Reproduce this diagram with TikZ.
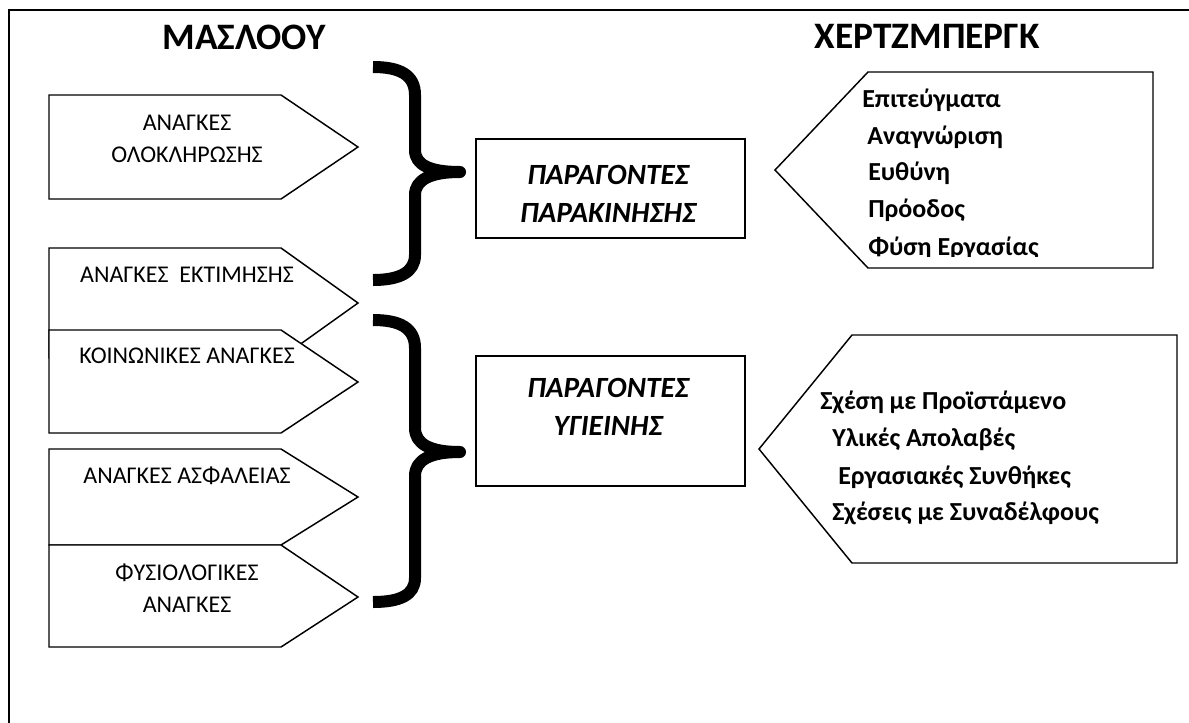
\documentclass[tikz,border=0pt]{standalone}
\usepackage{fontspec}
\setmainfont{Carlito}
\begin{document}
\begin{tikzpicture}[x=0.75pt,y=-0.75pt,
		needbox/.style={draw=black, line width=1.1pt, fill=white, line join=miter},
		needtext/.style={font=\fontsize{18}{24}\selectfont, align=center, inner sep=0pt},
		factortext/.style={font=\fontsize{22}{28}\selectfont\bfseries\itshape, align=center, inner sep=0pt},
		itemtext/.style={font=\fontsize{19.5}{21}\selectfont\bfseries, anchor=west, inner sep=0pt},
		heading/.style={font=\fontsize{28}{30}\selectfont\bfseries, inner sep=0pt},
		curly/.style={line width=9pt, line join=round}]
			\useasboundingbox (0,0) rectangle (1189,722);
			% outer frame
			\draw[line width=1.1pt] (9,740) -- (9,10) -- (1200,10);

			\node[heading] (maslow) at (244,37) {ΜΑΣΛΟΟΥ};
			\node[heading] (herz) at (927,36) {ΧΕΡΤΖΜΠΕΡΓΚ};

			% maslow needs
			\draw[needbox] (49,95) -- (281,95) -- (358,147) -- (281,199) -- (49,199) -- cycle;
			\draw[needbox] (49,248) -- (281,248) -- (358,303) -- (281,358) -- (49,358) -- cycle;
			\draw[needbox] (49,330) -- (281,330) -- (358,382) -- (281,433) -- (49,433) -- cycle;
			\draw[needbox] (49,449) -- (281,449) -- (358,497) -- (281,545) -- (49,545) -- cycle;
			\draw[needbox] (49,545) -- (281,545) -- (358,597) -- (281,647) -- (49,647) -- cycle;

			\node[needtext] (selfact) at (187,139) {ΑΝΑΓΚΕΣ\\ΟΛΟΚΛΗΡΩΣΗΣ};
			\node[needtext] (esteem) at (187,275) {ΑΝΑΓΚΕΣ~~ΕΚΤΙΜΗΣΗΣ};
			\node[needtext] (social) at (187,356) {ΚΟΙΝΩΝΙΚΕΣ ΑΝΑΓΚΕΣ};
			\node[needtext] (safety) at (187,476) {ΑΝΑΓΚΕΣ ΑΣΦΑΛΕΙΑΣ};
			\node[needtext] (physio) at (187,588) {ΦΥΣΙΟΛΟΓΙΚΕΣ\\ΑΝΑΓΚΕΣ};

			% braces
			\draw[curly] (373,67) .. controls (400,67) and (415,75) .. (415,95) -- (415,150)
				.. controls (415,165) and (430,172) .. (460,172)
				.. controls (430,172) and (415,180) .. (415,195) -- (415,255)
				.. controls (415,272) and (400,280) .. (373,280);
			\draw[curly] (373,320) .. controls (400,320) and (415,328) .. (415,348) -- (415,428)
				.. controls (415,444) and (430,452) .. (460,452)
				.. controls (430,452) and (415,460) .. (415,476) -- (415,578)
				.. controls (415,595) and (400,602) .. (373,602);

			% factor boxes
			\draw[needbox] (476,139) rectangle (745,238);
			\draw[needbox] (476,356) rectangle (745,486);
			\node[factortext] (motiv) at (608,194) {ΠΑΡΑΓΟΝΤΕΣ\\ΠΑΡΑΚΙΝΗΣΗΣ};
			\node[factortext] (hyg) at (608,407) {ΠΑΡΑΓΟΝΤΕΣ\\ΥΓΙΕΙΝΗΣ};

			% herzberg lists
			\draw[needbox] (1153,72) -- (868,72) -- (775,170) -- (868,268) -- (1153,268) -- cycle;
			\draw[needbox] (1177,335) -- (852,335) -- (759,449) -- (852,563) -- (1177,563) -- cycle;

			\node[itemtext] (ach) at (862,100) {Επιτεύγματα};
			\node[itemtext] (rec) at (867,137) {Αναγνώριση};
			\node[itemtext] (resp) at (868,173) {Ευθύνη};
			\node[itemtext] (adv) at (868,210) {Πρόοδος};
			\begin{scope}
				\clip (800,200) rectangle (1150,256);
				\node[itemtext] (work) at (868,248) {Φύση Εργασίας};
			\end{scope}

			\node[itemtext] (sup) at (820,402) {Σχέση με Προϊστάμενο};
			\node[itemtext] (pay) at (832,439) {Υλικές Απολαβές};
			\node[itemtext] (cond) at (838,477) {Εργασιακές Συνθήκες};
			\node[itemtext] (coll) at (832,513) {Σχέσεις με Συναδέλφους};
		\end{tikzpicture}
\end{document}
